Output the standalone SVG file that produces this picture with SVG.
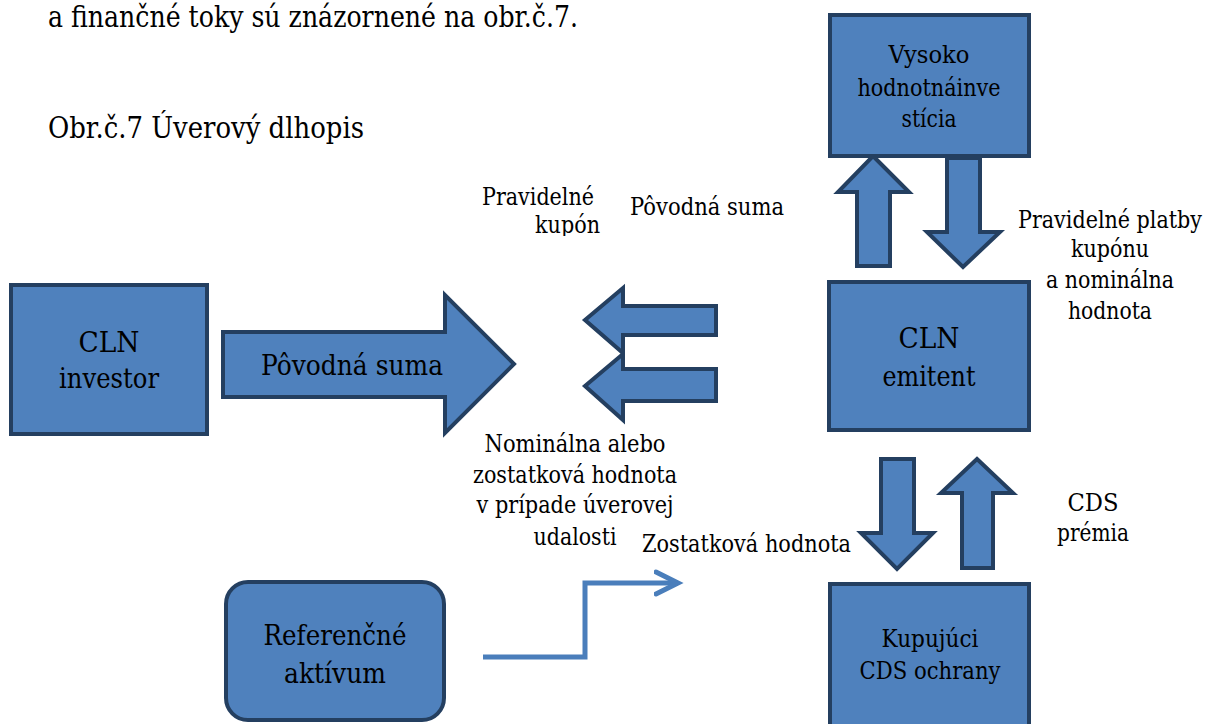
<svg xmlns="http://www.w3.org/2000/svg" width="1208" height="724" viewBox="0 0 1208 724">
<style>
.box{fill:#4F81BD;stroke:#243F60;stroke-width:4}
.arr{fill:#4F81BD;stroke:#243F60;stroke-width:4;stroke-linejoin:miter}
text{font-family:'DejaVu Serif','Liberation Serif',serif;fill:#000}
.s26{font-size:24px}
.s31{font-size:28px}
.s32{font-size:29px}
.c{text-anchor:middle}
.elbow{fill:none;stroke:#4A7EBB;stroke-width:5}
</style>
<defs>
<clipPath id="clipKup"><rect x="0" y="0" width="1208" height="236"/></clipPath>
<marker id="open" markerUnits="userSpaceOnUse" markerWidth="30" markerHeight="30" refX="24" refY="12" orient="auto" viewBox="0 0 30 24">
<path d="M2,1 L24,12 L2,23" fill="none" stroke="#4A7EBB" stroke-width="5" stroke-linecap="round" stroke-linejoin="miter"/>
</marker>
</defs>
<rect width="1208" height="724" fill="#fff"/>
<g id="caption">
<text class="s32" x="48" y="27" textLength="530" lengthAdjust="spacingAndGlyphs">a finančné toky sú znázornené na obr.č.7.</text>
<text class="s32" x="48" y="138" textLength="316" lengthAdjust="spacingAndGlyphs">Obr.č.7 Úverový dlhopis</text>
</g>
<g id="connectors">
<polygon class="arr" points="873,156 909,192 890,192 890,266 857,266 857,192 838,192"/>
<polygon class="arr" points="947,158 980,158 980,232 1000,232 963,267 927,232 947,232"/>
<polygon class="arr" points="223,332 445,332 445,295 514,364 445,433 445,397 223,397"/>
<polygon class="arr" points="585,320 623,288 623,306 716,306 716,335 623,335 623,353"/>
<polygon class="arr" points="585,386 623,354 623,369 716,369 716,401 623,401 623,420"/>
<polygon class="arr" points="881,459 914,459 914,533 933,533 897,569 861,533 881,533"/>
<polygon class="arr" points="977,459 1013,493 993,493 993,568 962,568 962,493 941,493"/>
<path class="elbow" d="M483,657 H585 V583 H678" marker-end="url(#open)"/>
</g>
<g id="node-vysoko">
<rect class="box" x="830" y="15" width="199" height="141"/>
<text class="s26 c" x="929" y="63" textLength="81" lengthAdjust="spacingAndGlyphs">Vysoko</text>
<text class="s26 c" x="929" y="96" textLength="143" lengthAdjust="spacingAndGlyphs">hodnotnáinve</text>
<text class="s26 c" x="929" y="127" textLength="55" lengthAdjust="spacingAndGlyphs">stícia</text>
</g>
<g id="node-emitent">
<rect class="box" x="829" y="282" width="200" height="148"/>
<text class="s31 c" x="929" y="348" textLength="61" lengthAdjust="spacingAndGlyphs">CLN</text>
<text class="s31 c" x="929" y="386" textLength="93" lengthAdjust="spacingAndGlyphs">emitent</text>
</g>
<g id="node-kupujuci">
<rect class="box" x="830" y="584" width="199" height="150"/>
<text class="s26 c" x="930" y="647" textLength="97" lengthAdjust="spacingAndGlyphs">Kupujúci</text>
<text class="s26 c" x="930" y="679" textLength="141" lengthAdjust="spacingAndGlyphs">CDS ochrany</text>
</g>
<g id="node-investor">
<rect class="box" x="11" y="285" width="196" height="149"/>
<text class="s31 c" x="109" y="352" textLength="61" lengthAdjust="spacingAndGlyphs">CLN</text>
<text class="s31 c" x="109" y="388" textLength="100" lengthAdjust="spacingAndGlyphs">investor</text>
</g>
<g id="node-referencne">
<rect class="box" x="226" y="582" width="218" height="138" rx="22" ry="22"/>
<text class="s31 c" x="335" y="645" textLength="143" lengthAdjust="spacingAndGlyphs">Referenčné</text>
<text class="s31 c" x="335" y="683" textLength="102" lengthAdjust="spacingAndGlyphs">aktívum</text>
</g>
<g id="labels">
<text class="s31 c" x="352" y="375" textLength="182" lengthAdjust="spacingAndGlyphs">Pôvodná suma</text>
<text class="s26" x="482" y="205" textLength="112" lengthAdjust="spacingAndGlyphs">Pravidelné</text>
<text class="s26" x="535" y="233" textLength="65" lengthAdjust="spacingAndGlyphs" clip-path="url(#clipKup)">kupón</text>
<text class="s26" x="630" y="215" textLength="154" lengthAdjust="spacingAndGlyphs">Pôvodná suma</text>
<text class="s26 c" x="1110" y="228" textLength="184" lengthAdjust="spacingAndGlyphs">Pravidelné platby</text>
<text class="s26 c" x="1110" y="257" textLength="78" lengthAdjust="spacingAndGlyphs">kupónu</text>
<text class="s26 c" x="1110" y="288" textLength="128" lengthAdjust="spacingAndGlyphs">a nominálna</text>
<text class="s26 c" x="1110" y="319" textLength="84" lengthAdjust="spacingAndGlyphs">hodnota</text>
<text class="s26 c" x="575" y="452" textLength="181" lengthAdjust="spacingAndGlyphs">Nominálna alebo</text>
<text class="s26 c" x="575" y="483" textLength="204" lengthAdjust="spacingAndGlyphs">zostatková hodnota</text>
<text class="s26 c" x="575" y="513" textLength="197" lengthAdjust="spacingAndGlyphs">v prípade úverovej</text>
<text class="s26 c" x="575" y="545" textLength="83" lengthAdjust="spacingAndGlyphs">udalosti</text>
<text class="s26" x="642" y="552" textLength="209" lengthAdjust="spacingAndGlyphs">Zostatková hodnota</text>
<text class="s26 c" x="1093" y="511" textLength="51" lengthAdjust="spacingAndGlyphs">CDS</text>
<text class="s26 c" x="1093" y="541" textLength="72" lengthAdjust="spacingAndGlyphs">prémia</text>
</g>
</svg>
